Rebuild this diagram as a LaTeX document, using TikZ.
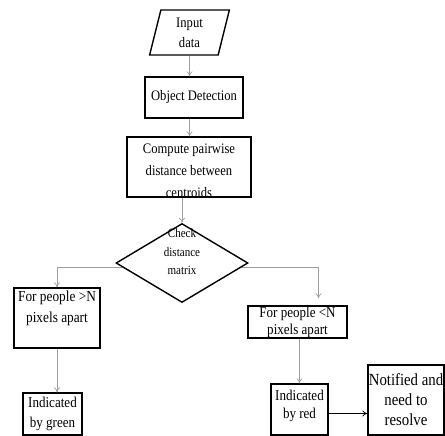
\documentclass[tikz,border=0pt]{standalone}
\usepackage{fontspec}
\setmainfont{Liberation Serif}[FakeStretch=0.87]
\usetikzlibrary{shapes, arrows.meta, calc, positioning}

\begin{document}
\begin{tikzpicture}[x=1pt, y=-1pt, >={To[length=5pt, width=6pt]}, font=\fontsize{14.5}{20}\selectfont,
  box/.style={draw, rectangle, line width=1.4pt, inner sep=0pt, align=center},
  txt/.style={inner sep=0pt, align=center},
  arr/.style={->, draw=gray!75, line width=0.7pt}]

\useasboundingbox (0,0) rectangle (445,436);

\node[draw, trapezium, trapezium left angle=80, trapezium right angle=100, trapezium stretches, line width=1.4pt, inner sep=0pt, minimum width=80, minimum height=45, align=center] (input) at (189.5,32.5) {Input\\data};
\node[box, minimum width=98, minimum height=41] (detect) at (194,97.5) {Object Detection};
\node[box, minimum width=124, minimum height=60] (compute) at (189,167) {};
\node[txt, font=\fontsize{14.5}{22}\selectfont] (computetxt) at ([yshift=-4pt]compute.center) {Compute pairwise\\distance between\\centroids};
\node[draw, diamond, line width=1.4pt, inner sep=0pt, minimum width=132, minimum height=79] (check) at (182,263) {};
\node[txt, font=\fontsize{12.7}{18.5}\selectfont] (checktxt) at ([yshift=11pt]check.center) {Check\\distance\\matrix};
\node[box, minimum width=86, minimum height=60] (gt) at (57,318) {};
\node[txt, below=3pt of gt.north, font=\fontsize{15.3}{21}\selectfont] (gttxt) {For people >N\\pixels apart};
\node[box, minimum width=99, minimum height=32, font=\fontsize{15}{17}\selectfont] (lt) at (297.5,322) {For people <N\\pixels apart};
\node[box, minimum width=59, minimum height=42, font=\fontsize{15}{20}\selectfont] (green) at (52.5,414) {Indicated\\by green};
\node[box, minimum width=57, minimum height=51] (red) at (299.5,409.5) {};
\node[txt, font=\fontsize{15}{18}\selectfont] (redtxt) at ([yshift=4pt]red.center) {Indicated\\by red};
\node[box, minimum width=76, minimum height=70, font=\fontsize{17}{20}\selectfont] (notified) at (406,400) {Notified and\\need to\\resolve};

\draw[arr] (input.south) -- (input.south |- detect.north);
\draw[arr] (input.south |- detect.south) -- (input.south |- compute.north);
\draw[arr] (check.north |- compute.south) -- (check.north);
\draw[arr] (check.184) -| (gt.north);
\draw[arr] (check.-4) -| ([xshift=21pt, yshift=7pt]lt.north);
\draw[arr] (gt.south) -- (gt.south |- green.north);
\draw[arr] (red.north |- lt.south) -- (red.north);
\draw[arr, draw=black] ([yshift=-4pt]red.east) -- ([yshift=-4pt]red.east -| notified.west);

\end{tikzpicture}
\end{document}
